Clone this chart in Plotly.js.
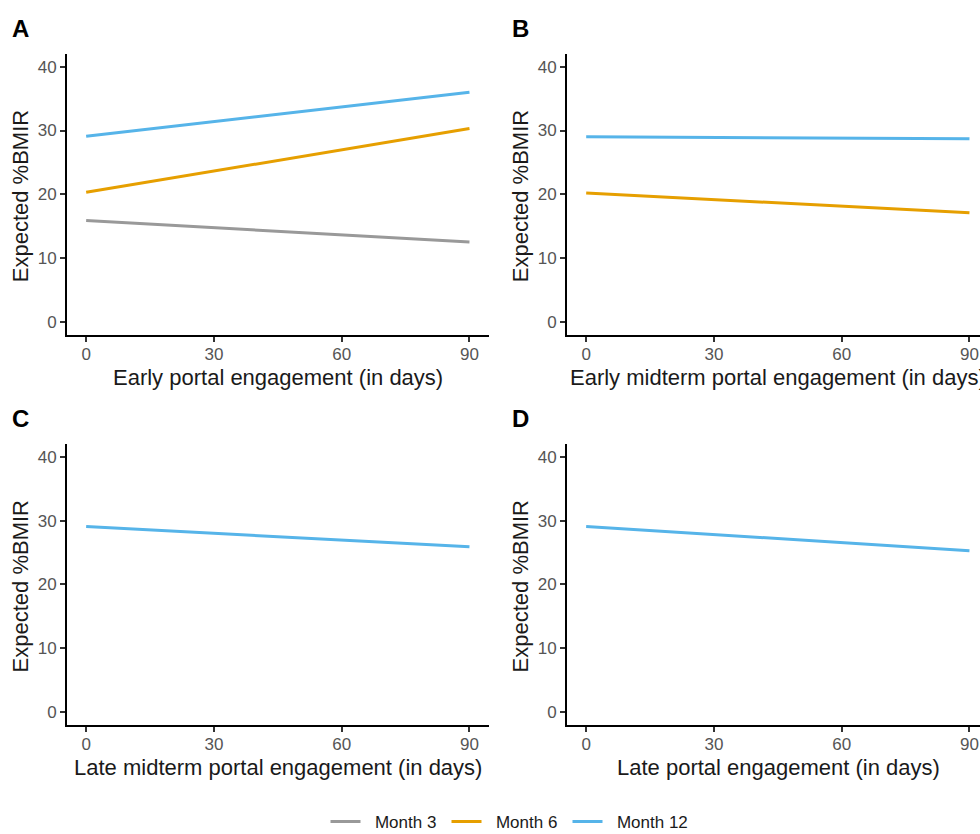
<!DOCTYPE html>
<html>
<head>
<meta charset="utf-8">
<script src="https://cdn.plot.ly/plotly-3.0.1.min.js"></script>
<style>html,body{margin:0;padding:0;background:#fff;}#chart{width:980px;height:834px;}</style>
</head>
<body>
<div id="chart"></div>
<script>
// ---- data ----
const xDays = [0, 90];
const seriesNames = ["Month 3", "Month 6", "Month 12"];
const panelA_m3 = [15.9, 12.5];
const panelA_m6 = [20.3, 30.3];
const panelA_m12 = [29.1, 36.0];
const panelB_m6 = [20.2, 17.1];
const panelB_m12 = [29.0, 28.7];
const panelC_m12 = [29.1, 25.9];
const panelD_m12 = [29.1, 25.3];
const panelLetters = ["A", "B", "C", "D"];
const xTitles = [
  "Early portal engagement (in days)",
  "Early midterm portal engagement (in days)",
  "Late midterm portal engagement (in days)",
  "Late portal engagement (in days)"
];
const yTitle = "Expected %BMIR";
const xTicks = [0, 30, 60, 90];
const yTicks = [0, 10, 20, 30, 40];

// ---- styling ----
const W = 980, H = 834;
const colors = {"Month 3": "#999999", "Month 6": "#E69F00", "Month 12": "#56B4E9"};
const px = v => v / W;
const py = v => 1 - v / H;
const FONT = "Liberation Sans, Arial, sans-serif";
const NB = "\u00A0\u00A0";

// panel pixel boxes: [left, right, top, bottom]
const boxes = [
  [67, 489, 54, 334.5],
  [567, 980, 54, 334.5],
  [67, 489, 444.3, 724.6],
  [567, 980, 444.3, 724.6]
];
const pxPerUnitX = (470 - 86.7) / 90;

function line(x, y, name, ax, show) {
  return {
    x: x, y: y, type: "scatter", mode: "lines", name: NB + name,
    legendgroup: name,
    line: {color: colors[name], width: 3},
    xaxis: "x" + (ax === 1 ? "" : ax), yaxis: "y" + (ax === 1 ? "" : ax),
    showlegend: show, hoverinfo: "skip"
  };
}

const data = [
  line(xDays, panelA_m3, "Month 3", 1, true),
  line(xDays, panelA_m6, "Month 6", 1, true),
  line(xDays, panelA_m12, "Month 12", 1, true),
  line(xDays, panelB_m6, "Month 6", 2, false),
  line(xDays, panelB_m12, "Month 12", 2, false),
  line(xDays, panelC_m12, "Month 12", 3, false),
  line(xDays, panelD_m12, "Month 12", 4, false)
];

const layout = {
  width: W, height: H,
  margin: {l: 0, r: 0, t: 0, b: 0, autoexpand: false},
  paper_bgcolor: "#fff", plot_bgcolor: "#fff",
  font: {family: FONT, color: "#000"},
  showlegend: true,
  legend: {
    orientation: "h", x: px(507), xanchor: "center", y: -0.007, yanchor: "bottom",
    font: {family: FONT, size: 17, color: "#1a1a1a"},
    bgcolor: "rgba(0,0,0,0)", entrywidth: 76, entrywidthmode: "pixels",
    traceorder: "normal", borderwidth: 0
  },
  annotations: []
};

boxes.forEach((b, i) => {
  const k = i + 1;
  const sfx = k === 1 ? "" : String(k);
  const xmin = -4.5;
  const xmax = xmin + (b[1] - b[0]) / pxPerUnitX;
  layout["xaxis" + sfx] = {
    domain: [px(b[0]), px(b[1])], anchor: "y" + sfx,
    range: [xmin, xmax], tickvals: xTicks, ticktext: xTicks.map(String),
    showgrid: false, zeroline: false, showline: true, linecolor: "#000", linewidth: 2,
    ticks: "outside", ticklen: 5, tickwidth: 2, tickcolor: "#333",
    ticklabelstandoff: -2,
    tickfont: {family: FONT, size: 17, color: "#555555"}, fixedrange: true
  };
  layout["yaxis" + sfx] = {
    domain: [py(b[3]), py(b[2])], anchor: "x" + sfx,
    range: [-2, 42], tickvals: yTicks, ticktext: yTicks.map(String),
    showgrid: false, zeroline: false, showline: true, linecolor: "#000", linewidth: 2,
    ticks: "outside", ticklen: 5, tickwidth: 2, tickcolor: "#333",
    tickfont: {family: FONT, size: 17, color: "#555555"}, fixedrange: true
  };
  const cx = i % 2 === 0 ? (67 + 489) / 2 : (567 + 989) / 2;
  layout.annotations.push({
    text: xTitles[i], xref: "paper", yref: "paper",
    x: px(cx), y: py(b[3] + 43), xanchor: "center", yanchor: "middle",
    showarrow: false, font: {family: FONT, size: 22, color: "#1a1a1a"}
  });
  layout.annotations.push({
    text: yTitle, xref: "paper", yref: "paper", textangle: -90,
    x: px(b[0] - 47), y: py((b[2] + b[3]) / 2 + 2), xanchor: "center", yanchor: "middle",
    showarrow: false, font: {family: FONT, size: 22, color: "#1a1a1a"}
  });
  layout.annotations.push({
    text: "<b>" + panelLetters[i] + "</b>", xref: "paper", yref: "paper",
    x: px(b[0] - 57), y: py(b[2] - 26), xanchor: "left", yanchor: "middle",
    showarrow: false, font: {family: FONT, size: 24, color: "#000"}
  });
});

Plotly.newPlot("chart", data, layout, {displayModeBar: false, staticPlot: true});
</script>
</body>
</html>
